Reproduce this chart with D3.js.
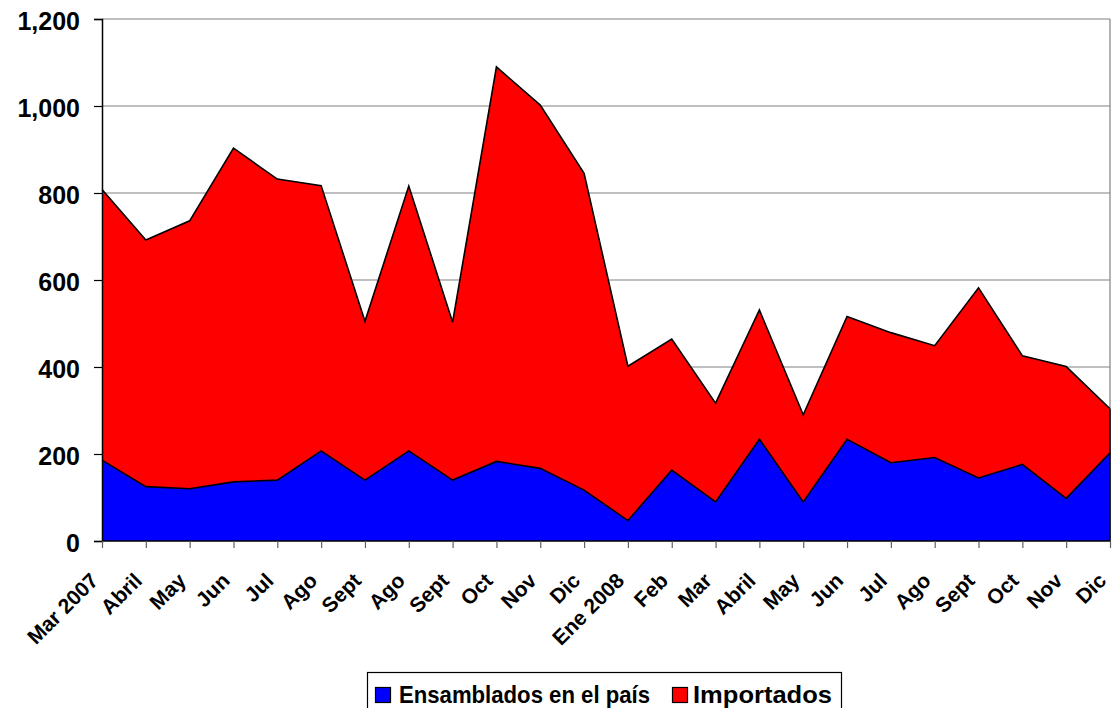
<!DOCTYPE html>
<html>
<head>
<meta charset="utf-8">
<script src="https://cdn.jsdelivr.net/npm/d3@7"></script>
<style>
  html, body { margin: 0; padding: 0; background: #fff; }
  svg { display: block; font-family: "Liberation Sans", Arial, sans-serif; font-weight: bold; }
</style>
</head>
<body>
<svg id="chart" width="1118" height="708"></svg>
<script>
const categories = ["Mar 2007","Abril","May","Jun","Jul","Ago","Sept","Ago","Sept","Oct","Nov","Dic","Ene 2008","Feb","Mar","Abril","May","Jun","Jul","Ago","Sept","Oct","Nov","Dic"];
const ensamblados = [186,125,120,136,140,207,140,207,140,183,167,117,47,163,90,234,90,234,180,192,145,176,98,203];
const importados = [622,567,616,767,692,610,365,609,363,907,835,728,355,301,227,297,200,282,299,257,437,250,303,101];
const yTicks = [0,200,400,600,800,1000,1200];
const seriesNames = ["Ensamblados en el país","Importados"];
const seriesColors = ["#0000ff","#ff0000"];

const svg = d3.select("#chart");
const pLeft = 102, pRight = 1110, pTop = 19, pBottom = 541;

const x = d3.scalePoint().domain(d3.range(categories.length)).range([pLeft, pRight]);
const y = d3.scaleLinear().domain([0, 1200]).range([pBottom, pTop]);

const table = categories.map((c, i) => ({ i, a: ensamblados[i], b: importados[i] }));
const stacked = d3.stack().keys(["a","b"])(table);

// gridlines
svg.append("g").selectAll("line").data(yTicks.filter(t => t > 0)).join("line")
  .attr("x1", pLeft).attr("x2", pRight)
  .attr("y1", d => y(d)).attr("y2", d => y(d))
  .attr("stroke", "#808080").attr("stroke-width", 1.2);
// right border
svg.append("line").attr("x1", pRight).attr("x2", pRight).attr("y1", pTop).attr("y2", pBottom)
  .attr("stroke", "#808080").attr("stroke-width", 1.2);

const area = d3.area().x(d => x(d.data.i)).y0(d => y(d[0])).y1(d => y(d[1]));
const line = d3.line().x(d => x(d.data.i)).y(d => y(d[1]));

svg.append("g").selectAll("path").data(stacked).join("path")
  .attr("d", area).attr("fill", (d, k) => seriesColors[k]);
svg.append("g").selectAll("path").data(stacked).join("path")
  .attr("d", line).attr("fill", "none").attr("stroke", "#000").attr("stroke-width", 1.6)
  .attr("stroke-linejoin", "miter");
// right edge closing line
svg.append("line").attr("x1", pRight).attr("x2", pRight)
  .attr("y1", y(0)).attr("y2", y(ensamblados[23] + importados[23]))
  .attr("stroke", "#000").attr("stroke-width", 1.6);

// y axis
const yAxis = d3.axisLeft(y).tickValues(yTicks).tickSize(8).tickPadding(14)
  .tickFormat(d3.format(","));
const gy = svg.append("g").attr("transform", `translate(${pLeft},0)`).call(yAxis);
gy.select(".domain").attr("stroke", "#000").attr("stroke-width", 1.5);
gy.selectAll(".tick line").attr("stroke", "#000").attr("stroke-width", 1.2);
gy.selectAll(".tick text").attr("font-size", 25).attr("font-weight", "bold")
  .attr("font-family", "Liberation Sans, Arial, sans-serif").attr("fill", "#000").attr("dy", "0.40em");

// x axis
const xAxis = d3.axisBottom(x).tickSize(7).tickFormat(i => categories[i]);
const gx = svg.append("g").attr("transform", `translate(0,${pBottom})`).call(xAxis);
gx.select(".domain").attr("stroke", "#000").attr("stroke-width", 1.5).attr("d", `M${pLeft},0H${pRight}`);
gx.selectAll(".tick line").attr("stroke", "#606060").attr("stroke-width", 1.2);
gx.selectAll(".tick text")
  .attr("font-size", 21).attr("font-weight", "bold")
  .attr("font-family", "Liberation Sans, Arial, sans-serif").attr("fill", "#000")
  .attr("text-anchor", "end")
  .attr("y", 0).attr("dy", 0)
  .attr("transform", "translate(-3,41) rotate(-45)");

// legend
const lg = svg.append("g");
lg.append("rect").attr("x", 367.5).attr("y", 672.5).attr("width", 474).attr("height", 40)
  .attr("fill", "#fff").attr("stroke", "#000").attr("stroke-width", 1.2);
const legendItems = [
  { sx: 375, tx: 399, len: 251 },
  { sx: 672, tx: 693, len: 139 }
];
legendItems.forEach((it, k) => {
  lg.append("rect").attr("x", it.sx + 0.5).attr("y", 687.5).attr("width", 15).attr("height", 15)
    .attr("fill", seriesColors[k]).attr("stroke", "#000").attr("stroke-width", 1.2);
  lg.append("text").attr("x", it.tx).attr("y", 703).attr("font-size", 24)
    .attr("textLength", it.len).attr("lengthAdjust", "spacingAndGlyphs")
    .attr("fill", "#000").text(seriesNames[k]);
});
</script>
</body>
</html>
